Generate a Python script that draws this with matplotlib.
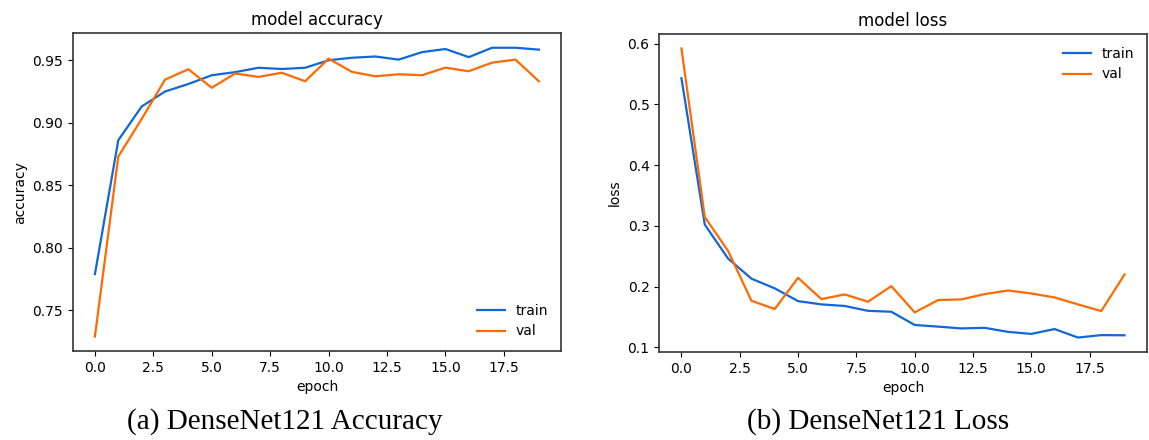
"""DenseNet121 training curves: accuracy and loss per epoch."""

import matplotlib.pyplot as plt

epochs = list(range(20))

train_acc = [0.779, 0.886, 0.913, 0.925, 0.931, 0.938, 0.9405, 0.944, 0.943, 0.944,
             0.950, 0.952, 0.953, 0.9505, 0.9565, 0.959, 0.9525, 0.960, 0.960, 0.9585]
val_acc = [0.729, 0.873, 0.903, 0.9345, 0.9428, 0.928, 0.9394, 0.9367, 0.940, 0.9332,
           0.9513, 0.9407, 0.9372, 0.9388, 0.938, 0.9441, 0.9412, 0.9481, 0.9505, 0.9332]

train_loss = [0.543, 0.302, 0.246, 0.213, 0.197, 0.176, 0.1706, 0.168, 0.160, 0.1585,
              0.1367, 0.134, 0.131, 0.132, 0.1254, 0.122, 0.130, 0.116, 0.120, 0.1197]
val_loss = [0.592, 0.3145, 0.2586, 0.1766, 0.163, 0.2143, 0.1793, 0.187, 0.175, 0.2007,
            0.1574, 0.1776, 0.1788, 0.1875, 0.1935, 0.1886, 0.182, 0.1706, 0.1596, 0.2198]

series_labels = ["train", "val"]
captions = ["(a) DenseNet121 Accuracy", "(b) DenseNet121 Loss"]

BLUE = "#1167d8"
ORANGE = "#ff6a00"

fig = plt.figure(figsize=(11.49, 4.40), dpi=100)
ax_acc = fig.add_axes([0.0633, 0.2023, 0.425, 0.722])
ax_loss = fig.add_axes([0.5738, 0.200, 0.4242, 0.7227])

ax_acc.plot(epochs, train_acc, color=BLUE, linewidth=1.6, label=series_labels[0])
ax_acc.plot(epochs, val_acc, color=ORANGE, linewidth=1.6, label=series_labels[1])
ax_acc.set_title("model accuracy", fontsize=12)
ax_acc.set_ylabel("accuracy", fontsize=10)
ax_acc.set_xlabel("epoch", fontsize=10)
ax_acc.legend(loc="lower right", frameon=False, fontsize=10)

ax_loss.plot(epochs, train_loss, color=BLUE, linewidth=1.6, label=series_labels[0])
ax_loss.plot(epochs, val_loss, color=ORANGE, linewidth=1.6, label=series_labels[1])
ax_loss.set_title("model loss", fontsize=12)
ax_loss.set_ylabel("loss", fontsize=10)
ax_loss.set_xlabel("epoch", fontsize=10)
ax_loss.legend(loc="upper right", frameon=False, fontsize=10)

for ax in (ax_acc, ax_loss):
    ax.tick_params(labelsize=10)
    for spine in ax.spines.values():
        spine.set_color("#333333")
        spine.set_linewidth(1.2)

fig.text(0.248, 0.042, captions[0], ha="center", va="center",
         family="Liberation Serif", fontsize=21)
fig.text(0.764, 0.042, captions[1], ha="center", va="center",
         family="Liberation Serif", fontsize=21)

fig.savefig("out.png", dpi=100)
